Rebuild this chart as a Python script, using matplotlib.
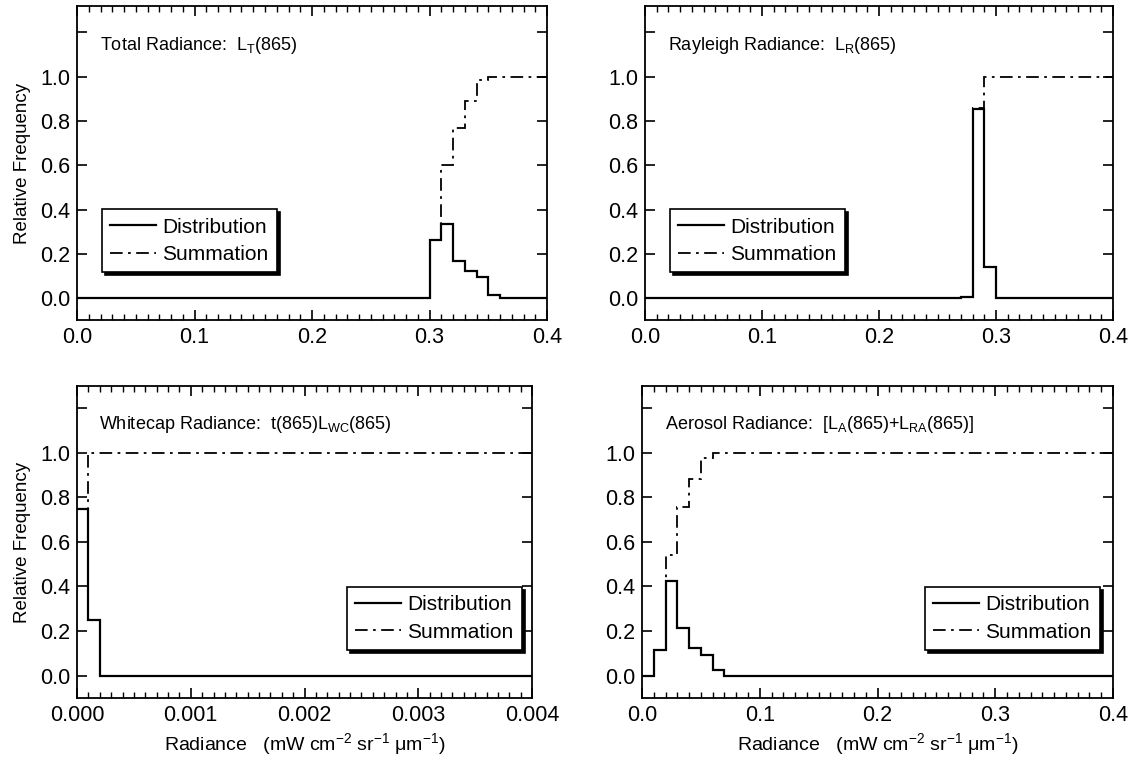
import matplotlib
matplotlib.use("Agg")
import matplotlib.pyplot as plt
from matplotlib.ticker import MultipleLocator, FormatStrFormatter

plt.rcParams['font.family'] = ['Liberation Sans', 'DejaVu Sans']
plt.rcParams['mathtext.fontset'] = 'custom'
plt.rcParams['mathtext.rm'] = 'Liberation Sans'
plt.rcParams['mathtext.it'] = 'Liberation Sans'
plt.rcParams['mathtext.default'] = 'regular'

# ---- data ----
total_edges = [0.0, 0.30, 0.31, 0.32, 0.33, 0.34, 0.35, 0.36, 0.4]
total_dist = [0.0, 0.262, 0.334, 0.170, 0.121, 0.097, 0.016, 0.0]
total_sum = [0.0, 0.262, 0.600, 0.770, 0.889, 0.986, 1.0, 1.0]

ray_edges = [0.0, 0.27, 0.28, 0.29, 0.30, 0.4]
ray_dist = [0.0, 0.005, 0.852, 0.143, 0.0]
ray_sum = [0.0, 0.005, 0.857, 1.0, 1.0]

wc_edges = [0.0, 0.0001, 0.0002, 0.004]
wc_dist = [0.748, 0.25, 0.0]
wc_sum = [0.748, 1.0, 1.0]

aer_edges = [0.0, 0.01, 0.02, 0.03, 0.04, 0.05, 0.06, 0.07, 0.4]
aer_dist = [0.0, 0.117, 0.424, 0.214, 0.126, 0.094, 0.025, 0.0]
aer_sum = [0.0, 0.117, 0.541, 0.756, 0.882, 0.977, 1.0, 1.0]

titles = [
    'Total Radiance:  L$_{T}$(865)',
    'Rayleigh Radiance:  L$_{R}$(865)',
    'Whitecap Radiance:  t(865)L$_{WC}$(865)',
    'Aerosol Radiance:  [L$_{A}$(865)+L$_{RA}$(865)]',
]
x_major = [0.1, 0.1, 0.001, 0.1]
x_minor = [0.01, 0.01, 0.0001, 0.01]
x_fmt = ['%.1f', '%.1f', '%.3f', '%.1f']
x_max = [0.4, 0.4, 0.004, 0.4]
y_ticks = [0.0, 0.2, 0.4, 0.6, 0.8, 1.0, 1.2]
y_ticklabels = ['0.0', '0.2', '0.4', '0.6', '0.8', '1.0', '']
xlabel = 'Radiance   (mW cm$^{-2}$ sr$^{-1}$ \u03bcm$^{-1}$)'

W, H = 1131, 759
fig = plt.figure(figsize=(W / 100, H / 100), dpi=100)

def px_axes(l, r, t, b):
    return fig.add_axes([l / W, 1 - b / H, (r - l) / W, (b - t) / H])

axes = [
    px_axes(77, 547, 6, 320),
    px_axes(645, 1113, 6, 320),
    px_axes(77, 532, 386, 698),
    px_axes(642, 1113, 386, 698),
]
ylims = [(-0.098, 1.319), (-0.098, 1.319), (-0.1, 1.299), (-0.1, 1.299)]
data = [
    (total_edges, total_dist, total_sum),
    (ray_edges, ray_dist, ray_sum),
    (wc_edges, wc_dist, wc_sum),
    (aer_edges, aer_dist, aer_sum),
]
leg_loc = [('lower left', (0.053, 0.152)), ('lower left', (0.053, 0.152)),
           ('lower right', (0.978, 0.154)), ('lower right', (0.972, 0.154))]

for i, ax in enumerate(axes):
    edges, dist, summ = data[i]
    ax.stairs(summ, edges, baseline=None, color='black', lw=1.3,
              linestyle=(0, (7, 3, 1.5, 3)), label='Summation', zorder=2)
    ax.stairs(dist, edges, baseline=None, color='black', lw=1.6,
              linestyle='-', label='Distribution', zorder=3)
    ax.set_xlim(0, x_max[i])
    ax.set_ylim(*ylims[i])
    ax.xaxis.set_major_locator(MultipleLocator(x_major[i]))
    ax.xaxis.set_minor_locator(MultipleLocator(x_minor[i]))
    ax.xaxis.set_major_formatter(FormatStrFormatter(x_fmt[i]))
    ax.set_yticks(y_ticks)
    ax.set_yticklabels(y_ticklabels)
    ax.tick_params(which='both', direction='in', top=True, right=True,
                   labelsize=15.5)
    ax.tick_params(which='major', length=7, width=1.2, pad=5)
    ax.tick_params(which='minor', length=4, width=1.0)
    for s in ax.spines.values():
        s.set_linewidth(1.3)
    ax.text(0.049, 0.875, titles[i], transform=ax.transAxes, fontsize=13,
            va='center', ha='left')
    handles, labels = ax.get_legend_handles_labels()
    loc, anchor = leg_loc[i]
    leg = ax.legend(handles[::-1], labels[::-1], loc=loc,
                    bbox_to_anchor=anchor, fontsize=15, frameon=True,
                    fancybox=False, edgecolor='black', framealpha=1,
                    shadow={'color': 'black', 'alpha': 1},
                    handlelength=2.2, handletextpad=0.3, borderpad=0.4,
                    labelspacing=0.4, borderaxespad=0)
    leg.get_frame().set_linewidth(1.2)
    if i in (0, 2):
        ax.set_ylabel('Relative Frequency', fontsize=13.5, labelpad=6)
    if i in (2, 3):
        ax.set_xlabel(xlabel, fontsize=14, labelpad=4)

fig.savefig('out.png', dpi=100)
